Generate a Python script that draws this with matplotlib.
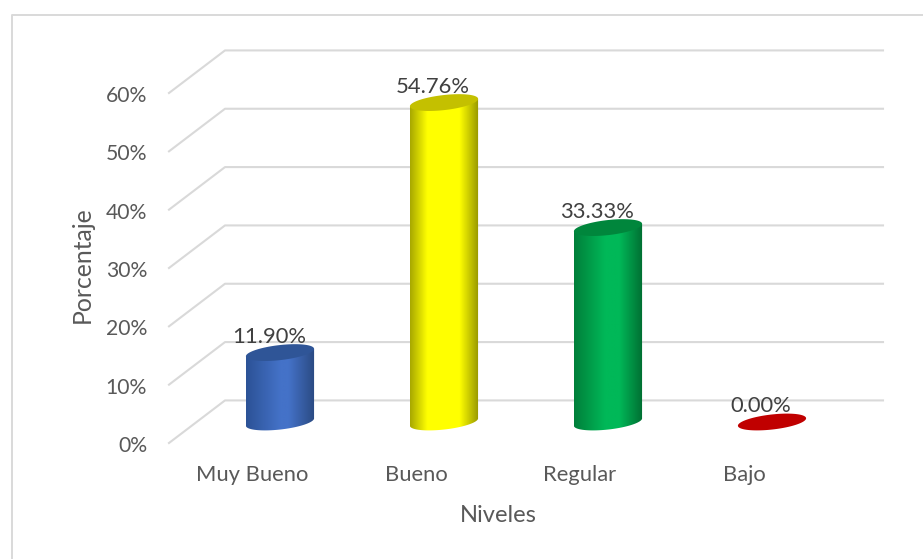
import numpy as np
import matplotlib
matplotlib.use('Agg')
import matplotlib.pyplot as plt
from matplotlib.colors import LinearSegmentedColormap
from matplotlib.lines import Line2D
from matplotlib.patches import Polygon
from matplotlib.transforms import ScaledTranslation

categories = ['Muy Bueno', 'Bueno', 'Regular', 'Bajo']
values = [11.90, 54.76, 33.33, 0.00]
value_labels = ['11.90%', '54.76%', '33.33%', '0.00%']
y_ticks = [0, 10, 20, 30, 40, 50, 60]

# colores: borde izquierdo, centro, borde derecho, tapa
bar_colors = [
    ('#2c5296', '#4472c8', '#2a4a82', '#2f5597'),
    ('#a8a800', '#ffff00', '#979700', '#c4c000'),
    ('#007f3a', '#00b858', '#006e32', '#00863c'),
    ('#c00000', '#c00000', '#c00000', '#c00000'),
]
# tramo del ancho donde el cilindro tiene el color de centro
bright_from = [0.50, 0.25, 0.45, 0.5]
bright_to = [0.62, 0.72, 0.66, 0.5]

W, H = 923, 559
PX_X = 164.0     # pixeles por categoria
PX_Y = 350 / 60  # pixeles por punto porcentual
BASE = 3.6       # la base de los cilindros va a media profundidad
WALL_DX = 56 / PX_X
WALL_DY = 7.3

plt.rcParams['font.family'] = ['Lato', 'DejaVu Sans']


def ellipse(x, y, a=34.3, b=7.5, tilt=6.5):
    t = np.linspace(0, 2 * np.pi, 181)[:-1]
    th = np.radians(tilt)
    dx = a * np.cos(t) * np.cos(th) - b * np.sin(t) * np.sin(th)
    dy = a * np.cos(t) * np.sin(th) + b * np.sin(t) * np.cos(th)
    return x + dx / PX_X, y + dy / PX_Y


fig = plt.figure(figsize=(W / 100, H / 100), dpi=100)
ax = fig.add_axes([169 / W, 1 - 443 / H, (883 - 169) / W, 350 / H])
x_left = (169 - 280) / PX_X
x_right = (883 - 280) / PX_X

# marco del grafico (se sale de la imagen por la derecha y abajo)
fig.add_artist(Line2D([11.5 / W, 11.5 / W, 1], [0, 1 - 14.5 / H, 1 - 14.5 / H],
                      color='#d9d9d9', lw=1.4))

# paredes con la cuadricula
for v in y_ticks:
    ax.plot([x_left, x_left + WALL_DX, x_right], [v, v + WALL_DY, v + WALL_DY],
            color='#d9d9d9', lw=1.5, clip_on=False, zorder=1)

# cilindros
for i, (val, lab, cols) in enumerate(zip(values, value_labels, bar_colors)):
    y0 = BASE
    y1 = BASE + val
    bx, by = ellipse(i, y0)
    tx, ty = ellipse(i, y1)
    if val > 0:
        left = np.argmin(bx)
        right = np.argmax(bx)
        # mitad inferior de la base, de izquierda a derecha por abajo
        idx = np.arange(left, right + 180 if right < left else right) % 180
        outline = np.r_[np.c_[bx[idx], by[idx]], [[tx[right], ty[right]], [tx[left], ty[left]]]]
        cmap = LinearSegmentedColormap.from_list(
            'cyl', [(0, cols[0]), (bright_from[i], cols[1]), (bright_to[i], cols[1]), (1, cols[2])])
        grad = np.linspace(0, 1, 128).reshape(1, -1)
        im = ax.imshow(grad, cmap=cmap, aspect='auto', zorder=3,
                       extent=[bx.min(), bx.max(), y0 - 3, y1 + 3])
        clip = Polygon(outline, closed=True, transform=ax.transData, fc='none', ec='none')
        ax.add_patch(clip)
        im.set_clip_path(clip)
    ax.fill(tx, ty, color=cols[3], lw=0, zorder=4, clip_on=False)
    ax.annotate(lab, (i, y1), xytext=(-11 * 0.72, 16 * 0.72), textcoords='offset points',
                ha='center', va='center', fontsize=15.8, color='#404040', zorder=5,
                annotation_clip=False)

ax.set_xlim(x_left, x_right)
ax.set_ylim(0, 60)

ax.set_yticks(y_ticks)
ax.set_yticklabels([f'{v}%' for v in y_ticks])
ax.set_xticks(np.arange(len(categories)) - 28 / PX_X)
ax.set_xticklabels(categories)
ax.tick_params(axis='y', length=0, pad=15.8, labelsize=15.2, labelcolor='#595959')
ax.tick_params(axis='x', length=0, pad=16, labelsize=15.8, labelcolor='#595959')
shift = ScaledTranslation(0, -0.7 / 72, fig.dpi_scale_trans)
for t in ax.get_yticklabels():
    t.set_transform(t.get_transform() + shift)
for s in ax.spines.values():
    s.set_visible(False)
ax.patch.set_visible(False)

fig.text(82 / W, 1 - 265 / H, 'Porcentaje', rotation=90, ha='center', va='center',
         fontsize=17.8, color='#595959')
fig.text(498 / W, 1 - 516 / H, 'Niveles', ha='center', va='center',
         fontsize=17, color='#595959')

fig.savefig('out.png', dpi=100)
